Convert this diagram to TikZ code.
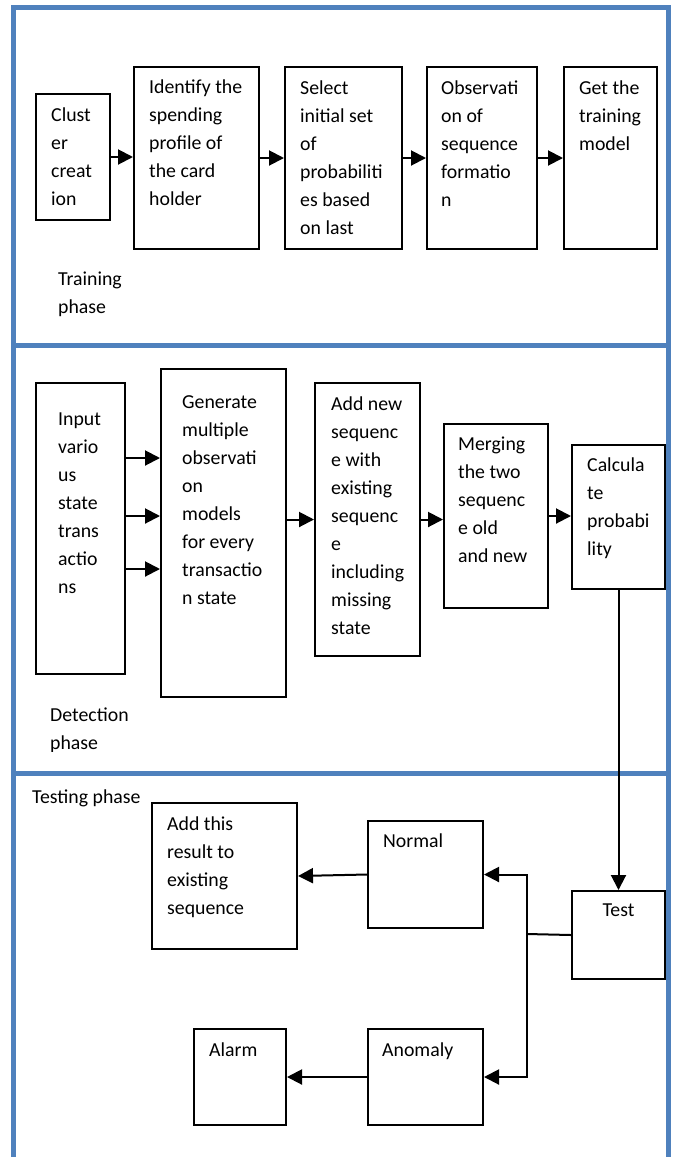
\documentclass[tikz,border=0pt]{standalone}
\usepackage{fontspec}
\setmainfont{Carlito}
\usetikzlibrary{positioning,arrows.meta,calc}
\definecolor{panelblue}{RGB}{79,129,189}

\begin{document}
\begin{tikzpicture}[x=1pt, y=-1pt, font=\fontsize{19.8}{28}\selectfont,
    stepbox/.style={draw, line width=2pt, anchor=north west, inner sep=0pt},
    boxtext/.style={anchor=north west, inner sep=0pt, align=left},
    flow/.style={line width=2pt, -{Triangle[length=15pt,width=15pt]}},
    link/.style={line width=2pt},
    panel/.style={draw=panelblue, line width=5pt}]

\useasboundingbox (0,0) rectangle (676,1157);

% Phase panels
\draw[panel] (13.5,7) rectangle (668.5,345);
\draw[panel] (13.5,345) rectangle (668.5,773);
\draw[panel] (13.5,773) rectangle (668.5,1165);

% Boxes: name/x/y/width/height/text inset x/text inset y/text
\foreach \n/\x/\y/\w/\h/\dx/\dy/\txt in {
    clus/35/93/74/126/16/15/{Clust\\er\\creat\\ion},
    ident/133/66/125/182/16/14/{Identify the\\spending\\profile of\\the card\\holder},
    sel/284/66/117/182/16/15/{Select\\initial set\\of\\probabiliti\\es based\\on last},
    obs/426/66/110/182/15/15/{Observati\\on of\\sequence\\formatio\\n},
    get/563/66/93/182/16/15/{Get the\\training\\model},
    inp/35/382/89/291/23/31/{Input\\vario\\us\\state\\trans\\actio\\ns},
    gen/160/368/125/328/22/27/{Generate\\multiple\\observati\\on\\models\\for every\\transactio\\n state},
    addn/314/382/105/273/17/15/{Add new\\sequenc\\e with\\existing\\sequenc\\e\\including\\missing\\state},
    merg/443/423/104/184/15/14/{Merging\\the two\\sequenc\\e old\\and new},
    calc/571/444/93/144/16/14/{Calcula\\te\\probabi\\lity},
    addr/151/802/145/146/16/15/{Add this\\result to\\existing\\sequence},
    norm/367/820/115/107/16/14/{Normal},
    anom/367/1028/115/96/15/15/{Anomaly},
    alarm/193/1028/92/96/16/15/{Alarm}} {
    \node[stepbox, minimum width=\w pt, minimum height=\h pt] (\n) at (\x,\y) {};
    \node[boxtext] (\n-t) at ($(\n.north west)+(\dx,\dy)$) {\txt};
}

\node[stepbox, minimum width=93pt, minimum height=88pt] (test) at (571,890) {};
\node[anchor=north, inner sep=0pt] (test-t) at ($(test.north)+(0,14)$) {Test};

% Phase labels
\node[boxtext] (train-lbl) at (58,272) {Training\\phase};
\begin{scope}
    \clip (40,700) rectangle (200,751);
    \node[boxtext] (detect-lbl) at (50,708) {Detection\\phase};
\end{scope}
\node[boxtext] (test-lbl) at (32,790) {Testing phase};

% Training phase flow
\draw[flow] (clus.east) -- (clus.east -| ident.west);
\draw[flow] (ident.east) -- (sel.west);
\draw[flow] (sel.east) -- (obs.west);
\draw[flow] (obs.east) -- (get.west);

% Detection phase flow
\foreach \yy in {458,516,569}
    \draw[flow] (inp.east |- 0,\yy) -- (gen.west |- 0,\yy);
\draw[flow] (gen.east |- addn.west) -- (addn.west);
\draw[flow] (addn.east) -- (addn.east -| merg.west);
\draw[flow] (merg.east) -- (merg.east -| calc.west);
\draw[flow] (calc.south) -- (test.north);

% Testing phase flow
\coordinate (split) at (527,934);
\draw[link] (test.west) -- (split);
\draw[flow] (split) |- (norm.east);
\draw[flow] (split) |- (anom.east);
\draw[flow] (norm.west) -- (addr.east);
\draw[flow] (anom.west) -- (alarm.east);
\end{tikzpicture}
\end{document}
